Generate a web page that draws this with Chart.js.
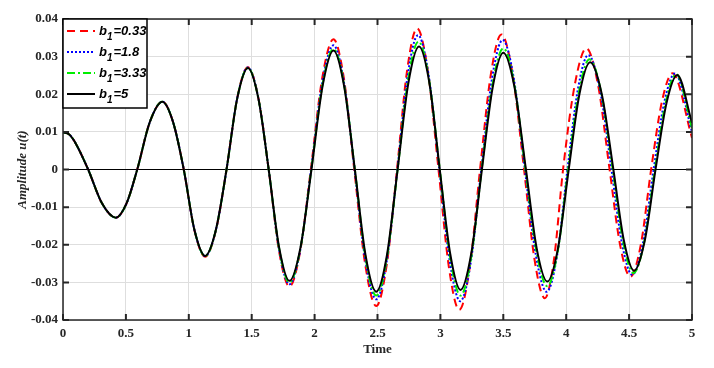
<!DOCTYPE html>
<html>
<head>
<meta charset="utf-8">
<script src="https://cdn.jsdelivr.net/npm/chart.js@4.4.1/dist/chart.umd.min.js"></script>
<style>
  html, body { margin: 0; padding: 0; background: #fff; }
</style>
</head>
<body>
<canvas id="chart" width="714" height="368"></canvas>
<script>
// values (extrema, zero crossings and points between)
const labels = ["b\u2081=0.33", "b\u2081=1.8", "b\u2081=3.33", "b\u2081=5"];

const tRed = [0,0.05,0.1,0.2,0.31,0.42,0.505,0.59,0.69,0.79,0.875,0.96,1.045,1.13,1.215,1.3,1.385,1.47,1.553,1.635,1.718,1.8,1.885,1.97,2.06,2.15,2.233,2.315,2.403,2.49,2.573,2.655,2.735,2.815,2.9,2.985,3.068,3.15,3.233,3.315,3.4,3.485,3.575,3.665,3.748,3.83,3.903,3.975,4.068,4.16,4.253,4.345,4.428,4.51,4.593,4.675,4.76,4.845,5];
const uRed = [0.0099,0.0093,0.007,0,-0.009,-0.0128,-0.009,0,0.0126,0.018,0.0126,0,-0.0162,-0.0232,-0.0162,0,0.019,0.0272,0.019,0,-0.0218,-0.0311,-0.0218,0,0.0242,0.0346,0.0242,0,-0.0254,-0.0363,-0.0254,0,0.0263,0.0375,0.0263,0,-0.0261,-0.0373,-0.0261,0,0.0251,0.0359,0.0251,0,-0.0239,-0.0342,-0.0239,0,0.0225,0.0322,0.0225,0,-0.020,-0.0285,-0.020,0,0.0179,0.0256,0.0084];

const tBlue = [0,0.05,0.1,0.2,0.31,0.42,0.505,0.59,0.69,0.79,0.875,0.96,1.045,1.13,1.215,1.3,1.385,1.47,1.553,1.635,1.718,1.8,1.886,1.972,2.061,2.15,2.234,2.318,2.404,2.49,2.574,2.658,2.74,2.822,2.907,2.992,3.075,3.158,3.242,3.325,3.41,3.495,3.584,3.672,3.759,3.845,3.928,4.01,4.093,4.175,4.268,4.36,4.443,4.525,4.61,4.695,4.78,4.865,5];
const uBlue = [0.0099,0.0093,0.007,0,-0.009,-0.0128,-0.009,0,0.0126,0.018,0.0126,0,-0.0161,-0.023,-0.0161,0,0.019,0.0271,0.019,0,-0.0214,-0.0305,-0.0214,0,0.0231,0.033,0.0231,0,-0.0242,-0.0345,-0.0242,0,0.025,0.0357,0.025,0,-0.0245,-0.035,-0.0245,0,0.0241,0.0344,0.0241,0,-0.0228,-0.0325,-0.0228,0,0.0213,0.0304,0.0213,0,-0.0196,-0.028,-0.0196,0,0.0179,0.0255,0.010];

const tGreen = [0,0.05,0.1,0.2,0.31,0.42,0.505,0.59,0.69,0.79,0.875,0.96,1.045,1.13,1.215,1.3,1.385,1.47,1.553,1.635,1.718,1.8,1.887,1.974,2.062,2.15,2.235,2.32,2.405,2.49,2.575,2.66,2.743,2.826,2.91,2.995,3.078,3.16,3.244,3.328,3.414,3.5,3.588,3.676,3.763,3.85,3.933,4.015,4.1,4.185,4.278,4.37,4.453,4.535,4.62,4.705,4.79,4.875,5];
const uGreen = [0.0099,0.0093,0.007,0,-0.009,-0.0128,-0.009,0,0.0126,0.018,0.0126,0,-0.0161,-0.023,-0.0161,0,0.0189,0.027,0.0189,0,-0.021,-0.030,-0.021,0,0.0224,0.032,0.0224,0,-0.0235,-0.0335,-0.0235,0,0.0238,0.034,0.0238,0,-0.0235,-0.0335,-0.0235,0,0.0225,0.0322,0.0225,0,-0.0217,-0.031,-0.0217,0,0.0205,0.0293,0.0205,0,-0.0193,-0.0275,-0.0193,0,0.0177,0.0253,0.011];

const tBlack = [0,0.05,0.1,0.2,0.31,0.42,0.505,0.59,0.69,0.79,0.875,0.96,1.045,1.13,1.215,1.3,1.385,1.47,1.553,1.635,1.718,1.8,1.888,1.975,2.063,2.15,2.235,2.32,2.405,2.49,2.575,2.66,2.745,2.83,2.913,2.995,3.078,3.16,3.245,3.33,3.415,3.5,3.59,3.68,3.765,3.85,3.935,4.02,4.105,4.19,4.283,4.375,4.458,4.54,4.625,4.71,4.797,4.883,5];
const uBlack = [0.0099,0.0093,0.007,0,-0.009,-0.0128,-0.009,0,0.0126,0.018,0.0126,0,-0.0161,-0.023,-0.0161,0,0.0189,0.027,0.0189,0,-0.0207,-0.0296,-0.0207,0,0.0221,0.0316,0.0221,0,-0.0228,-0.0325,-0.0228,0,0.0229,0.0327,0.0229,0,-0.0224,-0.032,-0.0224,0,0.0217,0.031,0.0217,0,-0.0209,-0.0298,-0.0209,0,0.020,0.0285,0.020,0,-0.0188,-0.0269,-0.0188,0,0.0176,0.0251,0.0124];

const xTicks = [0, 0.5, 1, 1.5, 2, 2.5, 3, 3.5, 4, 4.5, 5];
const yTicks = [-0.04, -0.03, -0.02, -0.01, 0, 0.01, 0.02, 0.03, 0.04];

const axisColor = "#262626";
const tickFont = { family: "'Liberation Serif', 'Times New Roman', serif", size: 13, weight: "bold" };

function pts(t, u) {
    return t.map((v, i) => ({ x: v, y: u[i] }));
}

function line(label, t, u, color, dash, order) {
    return {
        label: label,
        data: pts(t, u),
        borderColor: color,
        backgroundColor: color,
        borderWidth: 2,
        borderDash: dash,
        pointRadius: 0,
        fill: false,
        order: order,
        cubicInterpolationMode: "monotone",
    };
}

// MATLAB style box with inward ticks
const boxPlugin = {
    id: "box",
    afterDatasetsDraw(chart) {
        const { ctx, chartArea: a, scales } = chart;
        ctx.save();
        ctx.strokeStyle = axisColor;
        ctx.lineWidth = 1.5;
        ctx.setLineDash([]);
        ctx.strokeRect(a.left, a.top, a.right - a.left, a.bottom - a.top);
        ctx.lineWidth = 2;
        ctx.beginPath();
        xTicks.forEach(v => {
            const x = scales.x.getPixelForValue(v);
            ctx.moveTo(x, a.bottom); ctx.lineTo(x, a.bottom - 6);
            ctx.moveTo(x, a.top); ctx.lineTo(x, a.top + 6);
        });
        yTicks.forEach(v => {
            const y = scales.y.getPixelForValue(v);
            ctx.moveTo(a.left, y); ctx.lineTo(a.left + 6, y);
            ctx.moveTo(a.right, y); ctx.lineTo(a.right - 6, y);
        });
        ctx.stroke();
        ctx.restore();
    },
    afterDraw(chart) {
        // legend in the upper left corner of the axes
        const { ctx, chartArea: a } = chart;
        const w = 84, h = 89;
        ctx.save();
        ctx.fillStyle = "#fff";
        ctx.fillRect(a.left, a.top, w, h);
        ctx.strokeStyle = "#000";
        ctx.lineWidth = 1.5;
        ctx.setLineDash([]);
        ctx.strokeRect(a.left, a.top, w, h);
        chart.data.datasets.forEach((ds, i) => {
            const y = a.top + 12 + i * 21;
            ctx.strokeStyle = ds.borderColor;
            ctx.lineWidth = 2;
            ctx.setLineDash(ds.borderDash || []);
            ctx.beginPath();
            ctx.moveTo(a.left + 4, y);
            ctx.lineTo(a.left + 32, y);
            ctx.stroke();
            const parts = ds.label.split("\u2081");
            ctx.fillStyle = "#000";
            ctx.textBaseline = "alphabetic";
            ctx.textAlign = "left";
            let x = a.left + 36;
            ctx.font = "italic bold 13px 'Liberation Sans', Arial, sans-serif";
            ctx.fillText(parts[0], x, y + 4);
            x += ctx.measureText(parts[0]).width;
            ctx.font = "italic bold 10px 'Liberation Sans', Arial, sans-serif";
            ctx.fillText("1", x, y + 9);
            x += ctx.measureText("1").width + 1;
            ctx.font = "italic bold 13px 'Liberation Sans', Arial, sans-serif";
            ctx.fillText(parts[1], x, y + 4);
        });
        ctx.restore();
    }
};

const data = {
    datasets: [
        line(labels[0], tRed, uRed, "#ff0000", [8, 5], 4),
        line(labels[1], tBlue, uBlue, "#0000ff", [2, 2], 3),
        line(labels[2], tGreen, uGreen, "#00ee00", [8, 3, 2, 3], 2),
        line(labels[3], tBlack, uBlack, "#000000", [], 1),
    ]
};

const config = {
    type: "line",
    data: data,
    options: {
        responsive: false,
        animation: false,
        layout: { padding: { top: 19, right: 22, left: 0, bottom: 0 } },
        plugins: {
            legend: { display: false },
            tooltip: { enabled: false },
        },
        scales: {
            x: {
                type: "linear",
                min: 0,
                max: 5,
                afterBuildTicks(scale) { scale.ticks = xTicks.map(v => ({ value: v })); },
                afterFit(scale) { scale.height = 48; },
                grid: { color: "#dedede", lineWidth: 1, drawTicks: false },
                border: { display: false },
                ticks: {
                    padding: 6,
                    color: axisColor,
                    font: tickFont,
                    maxRotation: 0,
                    callback: v => String(v),
                },
                title: {
                    display: true,
                    text: "Time",
                    color: axisColor,
                    font: tickFont,
                    padding: { top: 0, bottom: 11 },
                },
            },
            y: {
                type: "linear",
                min: -0.04,
                max: 0.04,
                afterBuildTicks(scale) { scale.ticks = yTicks.map(v => ({ value: v })); },
                afterFit(scale) { scale.width = 63; },
                grid: {
                    color: c => (c.tick && Math.abs(c.tick.value) < 1e-9) ? "#000" : "#dedede",
                    lineWidth: 1,
                    drawTicks: false,
                },
                border: { display: false },
                ticks: {
                    padding: 5,
                    color: axisColor,
                    font: tickFont,
                    callback: v => Math.abs(v) < 1e-9 ? "0" : v.toFixed(2),
                },
                title: {
                    display: true,
                    text: "Amplitude u(t)",
                    color: axisColor,
                    font: { family: "'Liberation Serif', 'Times New Roman', serif", size: 13, weight: "bold", style: "italic" },
                    padding: { top: 15, bottom: 0 },
                },
            },
        },
    },
    plugins: [boxPlugin],
};

new Chart(document.getElementById("chart"), config);
</script>
</body>
</html>
